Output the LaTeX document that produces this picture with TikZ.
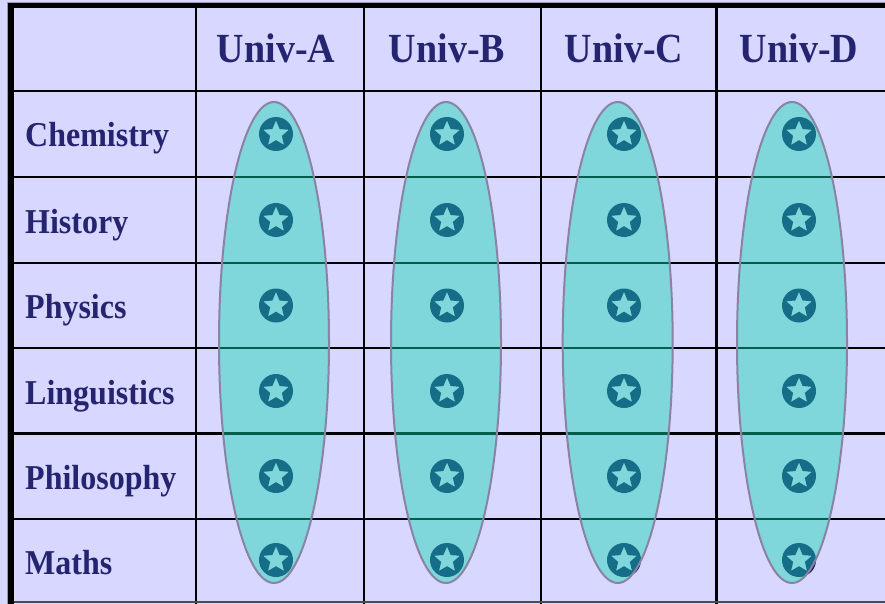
\documentclass[tikz,border=0pt]{standalone}
\usepackage{fontspec}
\setmainfont{Liberation Serif}
\definecolor{bgc}{RGB}{215,215,255}
\definecolor{txt}{RGB}{36,36,112}
\definecolor{elfill}{RGB}{15,214,174}
\definecolor{eldraw}{RGB}{138,132,162}
\definecolor{badge}{RGB}{28,28,105}
\definecolor{edge}{RGB}{150,150,175}
\tikzset{
  gridline/.style={black,line width=2.4pt},
  border/.style={black,line width=5.6pt},
  hdr/.style={text=txt,font=\fontsize{38}{38}\bfseries\selectfont,inner sep=0pt,anchor=base},
  rowlab/.style={text=txt,font=\fontsize{32}{32}\bfseries\selectfont,inner sep=0pt,anchor=base west},
  group/.style={fill=elfill,fill opacity=0.44,draw=eldraw,draw opacity=1,line width=2pt},
  badgefill/.style={fill=badge,even odd rule},
}
\newcommand{\tall}[1]{\scalebox{1}[1.09]{#1}}
\newcommand{\starbadge}[2]{%
  \fill[badgefill] (#1,#2) circle[radius=17]
    (#1,#2) +(-90:13.5) -- +(-54:6.2) -- +(-18:13.5) -- +(18:6.2) -- +(54:13.5)
    -- +(90:6.2) -- +(126:13.5) -- +(162:6.2) -- +(198:13.5) -- +(234:6.2) -- cycle;}
\begin{document}
\begin{tikzpicture}[x=1pt,y=-1pt]
\useasboundingbox (0,0) rectangle (885,604);
\fill[bgc] (0,0) rectangle (885,604);
% outer thin edges
\draw[edge,line width=1pt] (7.5,604) -- (7.5,2.2) -- (885,2.2);
% grid
\foreach \y in {91,177,263,348,433.5,519} \draw[gridline] (11,\y) -- (885,\y);
\foreach \x in {196,364,541,716.5} \draw[gridline] (\x,5.5) -- (\x,604);
\draw[black!70,line width=1.5pt] (11,602) -- (885,602);
\draw[border] (11,604) -- (11,5.5);
\draw[border] (8.2,5.5) -- (885,5.5);
% headers
\node[hdr] (ha) at (276,63) {\tall{Univ-A}};
\node[hdr] (hb) at (447,63) {\tall{Univ-B}};
\node[hdr] (hc) at (624,63) {\tall{Univ-C}};
\node[hdr] (hd) at (799,63) {\tall{Univ-D}};
% row labels
\node[rowlab] (r1) at (25,147) {\tall{Chemistry}};
\node[rowlab] (r2) at (25,233) {\tall{History}};
\node[rowlab] (r3) at (25,318.5) {\tall{Physics}};
\node[rowlab] (r4) at (25,404) {\tall{Linguistics}};
\node[rowlab] (r5) at (25,489) {\tall{Philosophy}};
\node[rowlab] (r6) at (25,574) {\tall{Maths}};
% badges
\foreach \x in {276,447,624,799}
  \foreach \y in {134,220,305.5,391,476,560}
    {\starbadge{\x}{\y}}
% groups
\foreach \x in {274,446,617.7,792}
  \draw[group] (\x,342.5) ellipse[x radius=55,y radius=240.5];
\end{tikzpicture}
\end{document}
